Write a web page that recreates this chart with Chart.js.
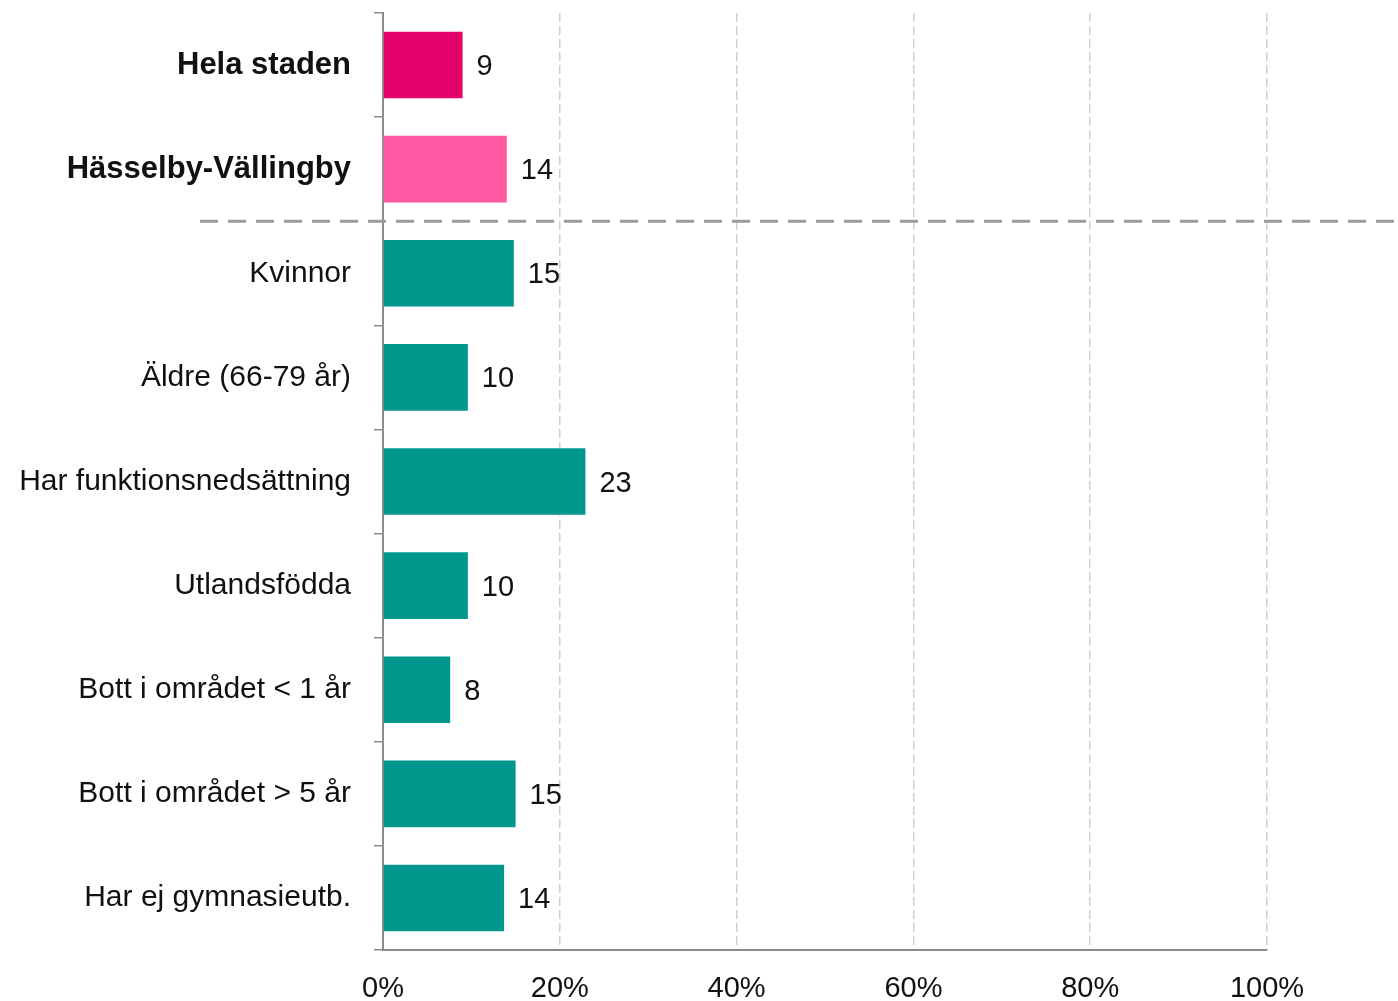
<!DOCTYPE html>
<html>
<head>
<meta charset="utf-8">
<script src="https://cdn.jsdelivr.net/npm/chart.js@4.4.1/dist/chart.umd.min.js"></script>
<style>
  html, body { margin: 0; padding: 0; background: #fff; }
  #wrap { width: 1398px; height: 1001px; }
</style>
</head>
<body>
<div id="wrap"><canvas id="myChart" width="1398" height="1001"></canvas></div>
<script>
// data
const categories = [
  'Hela staden',
  'Hässelby-Vällingby',
  'Kvinnor',
  'Äldre (66-79 år)',
  'Har funktionsnedsättning',
  'Utlandsfödda',
  'Bott i området < 1 år',
  'Bott i området > 5 år',
  'Har ej gymnasieutb.'
];
const shares = [9.0, 14.0, 14.8, 9.6, 22.9, 9.6, 7.6, 15.0, 13.7];
const shareLabels = ['9', '14', '15', '10', '23', '10', '8', '15', '14'];
const barColors = ['#E3006A', '#FF58A3', '#00978F', '#00978F', '#00978F', '#00978F', '#00978F', '#00978F', '#00978F'];
const xTicks = [0, 20, 40, 60, 80, 100];

const FONT = "'Liberation Sans', Arial, sans-serif";

// value labels next to each bar
const valueLabels = {
  id: 'valueLabels',
  afterDatasetsDraw(chart) {
    const ctx = chart.ctx;
    const meta = chart.getDatasetMeta(0);
    ctx.save();
    ctx.font = '29px ' + FONT;
    ctx.fillStyle = '#111';
    ctx.textAlign = 'left';
    ctx.textBaseline = 'middle';
    meta.data.forEach((bar, i) => {
      ctx.fillText(shareLabels[i], bar.x + 14, bar.y + 2);
    });
    ctx.restore();
  }
};

// dashed line between the totals and the groups
const separator = {
  id: 'separator',
  afterDraw(chart) {
    const ctx = chart.ctx;
    const y = chart.scales.y.getPixelForValue(1.5);
    ctx.save();
    ctx.strokeStyle = '#9a9a9a';
    ctx.lineWidth = 3;
    ctx.setLineDash([18, 10]);
    ctx.beginPath();
    ctx.moveTo(chart.chartArea.left - 183, y);
    ctx.lineTo(chart.width, y);
    ctx.stroke();
    ctx.restore();
  }
};

const data = {
  labels: categories,
  datasets: [{
    data: shares,
    backgroundColor: barColors,
    borderWidth: 0,
    barPercentage: 0.64,
    categoryPercentage: 1.0
  }]
};

const config = {
  type: 'bar',
  data: data,
  options: {
    indexAxis: 'y',
    responsive: false,
    animation: false,
    layout: { padding: { left: 0, right: 131, top: 13, bottom: 0 } },
    plugins: {
      legend: { display: false },
      tooltip: { enabled: false }
    },
    scales: {
      x: {
        min: 0,
        max: 100,
        afterBuildTicks: (scale) => {
          scale.ticks = xTicks.map(v => ({ value: v }));
        },
        afterFit: (scale) => { scale.height = 51; },
        grid: {
          drawTicks: false,
          color: (c) => c.index === 0 ? 'rgba(0,0,0,0)' : '#cfcfcf',
          lineWidth: 1.5
        },
        border: { display: true, color: '#8c8c8c', width: 2, dash: [9, 4] },
        ticks: {
          padding: 22,
          color: '#111',
          font: { family: FONT, size: 29 },
          callback: (v) => v + '%'
        }
      },
      y: {
        afterFit: (scale) => {
          scale.width = 383;
          scale.paddingTop = 0;
          scale.paddingBottom = 0;
        },
        grid: {
          offset: true,
          drawOnChartArea: false,
          drawTicks: true,
          tickLength: 9,
          color: '#8c8c8c',
          lineWidth: 1.5
        },
        border: { display: true, color: '#8c8c8c', width: 2 },
        ticks: {
          padding: 23,
          color: '#111',
          font: (c) => c.index < 2
            ? { family: FONT, size: 31, weight: 'bold' }
            : { family: FONT, size: 30 }
        }
      }
    }
  },
  plugins: [valueLabels, separator]
};

const myChart = new Chart(document.getElementById('myChart'), config);
</script>
</body>
</html>
